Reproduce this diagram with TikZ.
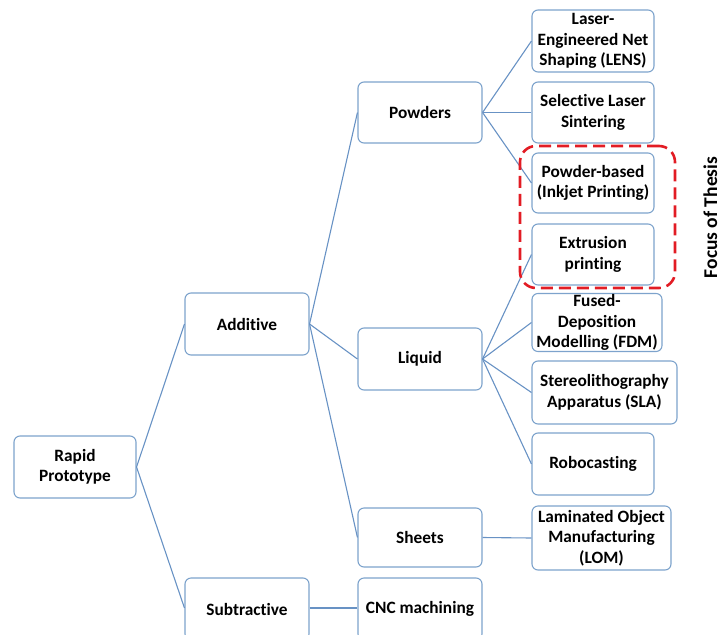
\documentclass[tikz,border=0pt]{standalone}
\usepackage{fontspec}
\setmainfont{Carlito}[Ligatures={NoCommon}]
\definecolor{boxline}{RGB}{125,163,204}
\definecolor{conline}{RGB}{104,146,196}
\definecolor{focusred}{RGB}{226,28,36}
\tikzset{
  box/.style={draw=boxline, line width=1.1pt, rounded corners=6pt, fill=white,
    align=center, inner sep=1pt, font=\fontsize{17.3}{20.5}\selectfont\bfseries},
  con/.style={draw=conline, line width=1.1pt},
}
\newcommand{\bx}[6]{% name, x1, y1, x2, y2, text
  \node[box, minimum width={#4-#2}, minimum height={#5-#3}] (#1) at ({(#2+#4)/2},{(#3+#5)/2}) {#6};}
\begin{document}
\begin{tikzpicture}[x=1pt,y=-1pt]
\useasboundingbox (0,0) rectangle (722,634);
\node[rotate=90, anchor=base, inner sep=0pt, font=\fontsize{19.5}{24}\selectfont\bfseries] (ft) at (717,217.5) {Focus of Thesis};
\begin{scope}
\clip (0,0) rectangle (722,634);
\bx{rp}{14}{436}{136}{498}{Rapid\\Prototype}
\bx{add}{185}{293}{309}{355}{Additive}
\bx{sub}{185}{578}{309}{640}{Subtractive}
\bx{pow}{358}{82}{482}{143}{Powders}
\bx{liq}{358}{328}{482}{390}{Liquid}
\bx{she}{358}{508}{482}{567}{Sheets}
\bx{cnc}{358}{578}{482}{640}{CNC machining}
\bx{lens}{532}{10}{654}{72}{Laser-\\Engineered Net\\Shaping (LENS)}
\bx{sls}{532}{82}{654}{143}{Selective Laser\\Sintering}
\bx{pb}{532}{153}{654}{213}{Powder-based\\(Inkjet Printing)}
\bx{ext}{532}{224}{654}{285}{Extrusion\\printing}
\bx{fdm}{532}{295}{662}{350}{Fused-\\Deposition\\Modelling (FDM)}
\bx{sla}{532}{361}{677}{424}{Stereolithography\\Apparatus (SLA)}
\bx{rob}{532}{433}{654}{495}{Robocasting}
\bx{lom}{532}{506}{671}{570}{Laminated Object\\Manufacturing\\(LOM)}
\draw[con] (rp.east) -- (add.west);
\draw[con] (rp.east) -- (sub.west |- 0,608);
\draw[con] (add.east) -- (pow.west);
\draw[con] (add.east) -- (liq.west);
\draw[con] (add.east) -- (she.west);
\draw[con] (sub.east |- 0,608) -- (cnc.west |- 0,608);
\draw[con] (pow.east) -- (lens.west);
\draw[con] (pow.east) -- (sls.west);
\draw[con] (pow.east) -- (pb.west);
\draw[con] (liq.east) -- (ext.west);
\draw[con] (liq.east) -- (fdm.west);
\draw[con] (liq.east) -- (sla.west);
\draw[con] (liq.east) -- (rob.west);
\draw[con] (she.east) -- (lom.west);
\node[draw=focusred, line width=2.6pt, dash pattern=on 12pt off 6pt, rounded corners=16pt,
  minimum width=155pt, minimum height=142pt] (focus) at (597.5,217) {};
\end{scope}
\end{tikzpicture}
\end{document}
